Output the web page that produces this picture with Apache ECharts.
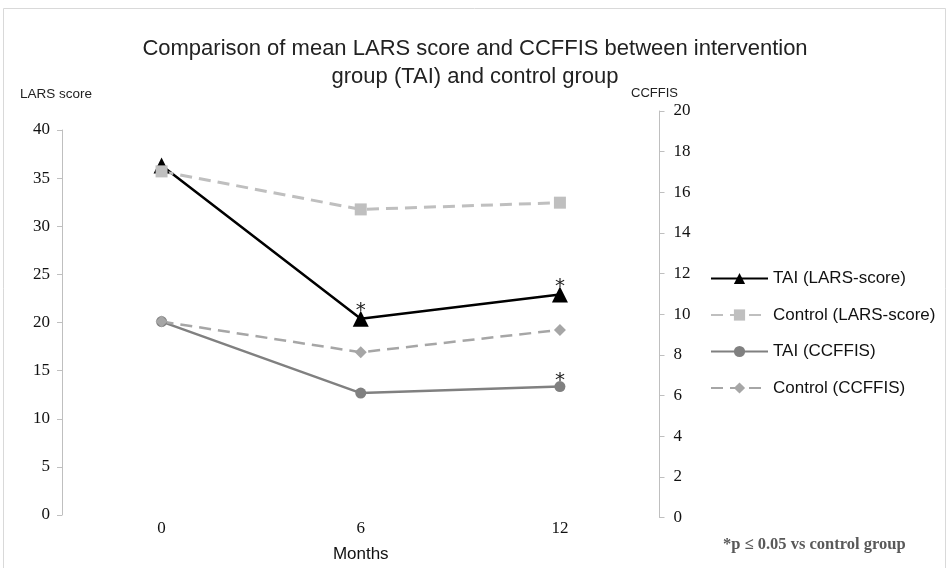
<!DOCTYPE html>
<html><head><meta charset="utf-8">
<script src="https://cdn.jsdelivr.net/npm/echarts@6/dist/echarts.min.js"></script>
<style>html,body{margin:0;padding:0;background:#fff}#c{width:946px;height:568px}</style>
</head><body><div id="c"></div>
<script>
var months = ['0', '6', '12'];
var taiLars = [36.3, 20.4, 22.9];
var controlLars = [35.7, 31.75, 32.45];
var taiCcffis = [9.64, 6.12, 6.44];
var controlCcffis = [9.64, 8.13, 9.23];
var taiLarsSig = [false, true, true];
var taiCcffisSig = [false, false, true];
var seriesNames = ['TAI (LARS-score)', 'Control (LARS-score)', 'TAI (CCFFIS)', 'Control (CCFFIS)'];

function withStars(vals, sig) {
  return vals.map(function (v, i) {
    return sig[i] ? { value: v, label: { show: true } } : v;
  });
}
var starLabel = { show: false, position: 'top', distance: -10, formatter: '*', fontFamily: 'DejaVu Sans', fontSize: 20, color: '#222' };

var chart = echarts.init(document.getElementById('c'), null, { renderer: 'canvas' });
var axisGrey = '#bfbfbf';
chart.setOption({
  animation: false,
  backgroundColor: '#fff',
  title: {
    text: 'Comparison of mean LARS score and CCFFIS between intervention\ngroup (TAI) and control group',
    left: 470, textAlign: 'center', top: 30,
    textStyle: { fontFamily: 'Liberation Sans', fontWeight: 'normal', fontSize: 22, color: '#222', lineHeight: 28 }
  },
  graphic: [
    { type: 'rect', shape: { x: 3.5, y: 8.5, width: 942, height: 562 }, style: { fill: 'none', stroke: '#d9d9d9', lineWidth: 1 }, silent: true },
    { type: 'text', left: 20, top: 87, style: { text: 'LARS score', font: '13.5px "Liberation Sans"', fill: '#222' } },
    { type: 'text', left: 631, top: 87, style: { text: 'CCFFIS', font: '13px "Liberation Sans"', fill: '#222' } },
    { type: 'text', left: 723, top: 536, style: { text: '*p \u2264 0.05 vs control group', font: 'bold 16.5px "Liberation Serif"', fill: '#595959' } }
  ],
  legend: {
    orient: 'vertical', left: 705, top: 265,
    itemWidth: 57, itemHeight: 14, itemGap: 19.5,
    textStyle: { fontFamily: 'Liberation Sans', fontSize: 17, color: '#111' },
    data: seriesNames
  },
  grid: [
    { left: 62, right: 286.5, top: 130, bottom: 50.5 },
    { left: 62, right: 286.5, top: 111, bottom: 50.5 }
  ],
  xAxis: [
    {
      type: 'category', gridIndex: 0, data: months, boundaryGap: true,
      axisLine: { show: false }, axisTick: { show: false },
      axisLabel: { margin: 5, fontFamily: 'Liberation Serif', fontSize: 17, color: '#111' },
      name: 'Months', nameLocation: 'middle', nameGap: 31,
      nameTextStyle: { fontFamily: 'Liberation Sans', fontSize: 17, color: '#111' }
    },
    { type: 'category', gridIndex: 1, data: months, boundaryGap: true, show: false }
  ],
  yAxis: [
    {
      type: 'value', gridIndex: 0, min: 0, max: 40, interval: 5, position: 'left',
      axisLine: { show: true, lineStyle: { color: axisGrey, width: 1 } },
      axisTick: { show: true, inside: false, length: 5, lineStyle: { color: axisGrey } },
      splitLine: { show: false },
      axisLabel: { margin: 12, fontFamily: 'Liberation Serif', fontSize: 17, color: '#111' }
    },
    {
      type: 'value', gridIndex: 1, min: 0, max: 20, interval: 2, position: 'right',
      axisLine: { show: true, lineStyle: { color: axisGrey, width: 1 } },
      axisTick: { show: true, inside: false, length: 5, lineStyle: { color: axisGrey } },
      splitLine: { show: false },
      axisLabel: { margin: 14, fontFamily: 'Liberation Serif', fontSize: 17, color: '#111' }
    }
  ],
  series: [
    {
      name: seriesNames[0], type: 'line', xAxisIndex: 0, yAxisIndex: 0,
      data: withStars(taiLars, taiLarsSig),
      symbol: 'triangle', symbolSize: 16,
      lineStyle: { color: '#000', width: 2.5, type: 'solid' },
      itemStyle: { color: '#000' },
      label: starLabel
    },
    {
      name: seriesNames[1], type: 'line', xAxisIndex: 0, yAxisIndex: 0,
      data: controlLars,
      symbol: 'rect', symbolSize: 12,
      lineStyle: { color: '#bfbfbf', width: 3, type: [12, 7] },
      itemStyle: { color: '#bfbfbf' }
    },
    {
      name: seriesNames[2], type: 'line', xAxisIndex: 1, yAxisIndex: 1,
      data: withStars(taiCcffis, taiCcffisSig),
      symbol: 'circle', symbolSize: 11,
      lineStyle: { color: '#808080', width: 2.5, type: 'solid' },
      itemStyle: { color: '#808080' },
      label: starLabel
    },
    {
      name: seriesNames[3], type: 'line', xAxisIndex: 1, yAxisIndex: 1,
      data: controlCcffis,
      symbol: 'diamond', symbolSize: 12,
      lineStyle: { color: '#a6a6a6', width: 2.5, type: [12, 7] },
      itemStyle: { color: '#a6a6a6' }
    }
  ]
});
</script></body></html>
